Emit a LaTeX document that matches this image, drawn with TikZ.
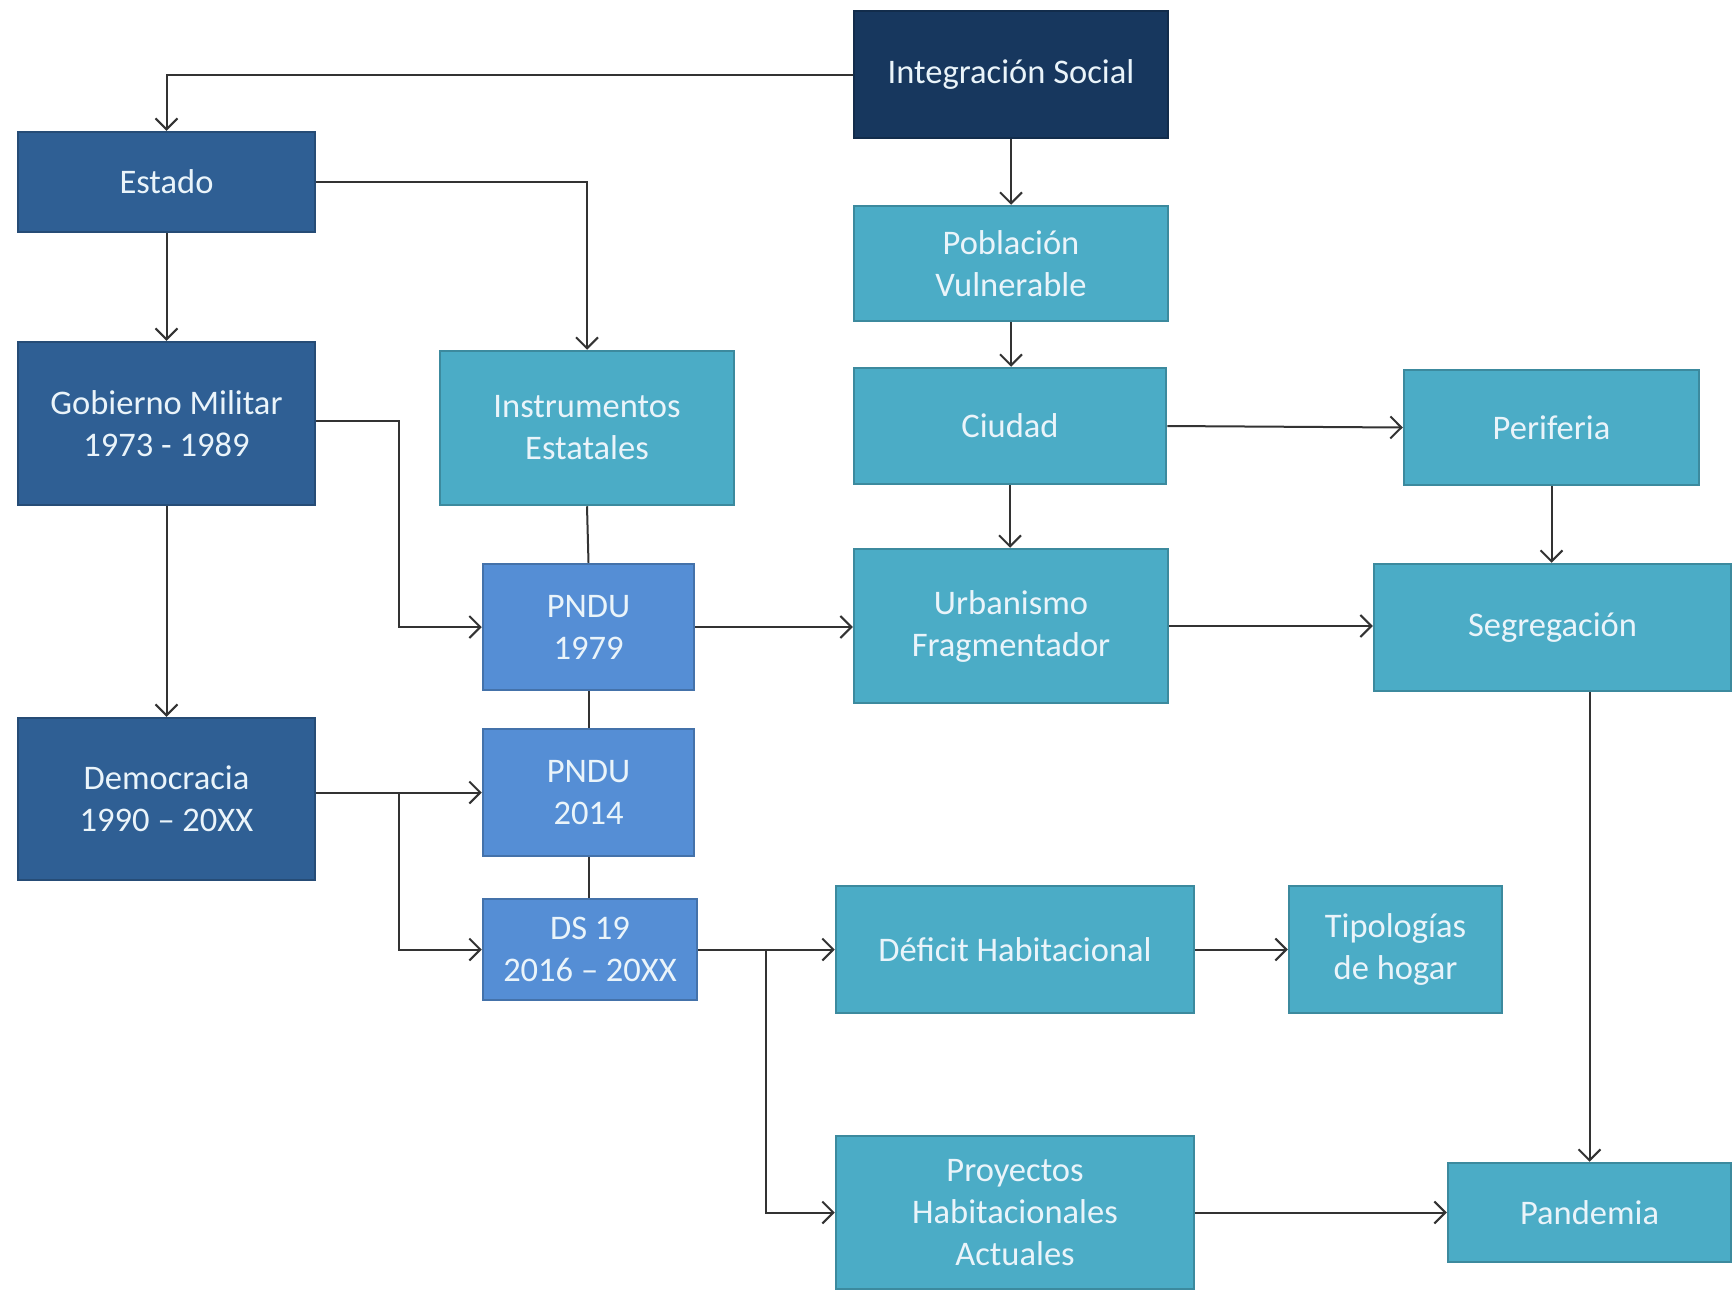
\documentclass[tikz,border=0pt]{standalone}
\usepackage{fontspec}
\setmainfont{Carlito}
\usetikzlibrary{arrows.meta}
\definecolor{navy}{HTML}{17375E}
\definecolor{estblue}{HTML}{2F5F94}
\definecolor{teal}{HTML}{4BACC6}
\definecolor{midblue}{HTML}{558ED5}
\definecolor{txt}{HTML}{EAF4FA}
\tikzset{
  box/.style={draw=#1!80!black, line width=2.5pt, fill=#1, text=txt, align=center,
    font=\fontsize{34.5}{42}\selectfont, inner sep=0pt},
  conn/.style={draw=black!80, line width=2pt},
  arr/.style={conn, -{Straight Barb[length=11pt,width=22pt,line width=2pt]}},
}
\begin{document}
\begin{tikzpicture}[x=1pt,y=-1pt]
\useasboundingbox[fill=white] (0,0) rectangle (1734,1296);
\node[box=navy, minimum width=314pt, minimum height=127pt] (integ) at (1011,74.5) {Integración Social};
\node[box=estblue, minimum width=297pt, minimum height=100pt] (estado) at (166.5,182) {Estado};
\node[box=estblue, minimum width=297pt, minimum height=163pt] (gob) at (166.5,423.5) {Gobierno Militar\\1973 - 1989};
\node[box=estblue, minimum width=297pt, minimum height=162pt] (demo) at (166.5,799) {Democracia\\1990 -- 20XX};
\node[box=teal, minimum width=294pt, minimum height=154pt] (instr) at (587,428) {Instrumentos\\Estatales};
\node[box=midblue, minimum width=211pt, minimum height=126pt] (p79) at (588.5,627) {PNDU\\1979};
\node[box=midblue, minimum width=211pt, minimum height=127pt] (p14) at (588.5,792.5) {PNDU\\2014};
\node[box=midblue, minimum width=214pt, minimum height=101pt] (ds) at (590,949.5) {DS 19\\2016 -- 20XX};
\node[box=teal, minimum width=314pt, minimum height=115pt] (pob) at (1011,263.5) {Población\\Vulnerable};
\node[box=teal, minimum width=312pt, minimum height=116pt] (ciudad) at (1010,426) {Ciudad};
\node[box=teal, minimum width=314pt, minimum height=154pt] (urb) at (1011,626) {Urbanismo\\Fragmentador};
\node[box=teal, minimum width=295pt, minimum height=115pt] (peri) at (1551.5,427.5) {Periferia};
\node[box=teal, minimum width=357pt, minimum height=127pt] (segr) at (1552.5,627.5) {Segregación};
\node[box=teal, minimum width=358pt, minimum height=127pt] (defic) at (1015,949.5) {Déficit Habitacional};
\node[box=teal, minimum width=213pt, minimum height=127pt] (tipo) at (1395.5,949.5) {Tipologías\\de hogar};
\node[box=teal, minimum width=358pt, minimum height=153pt] (proy) at (1015,1212.5) {Proyectos\\Habitacionales\\Actuales};
\node[box=teal, minimum width=283pt, minimum height=99pt] (pand) at (1589.5,1212.5) {Pandemia};

\coordinate (j1) at (399,627);
\coordinate (j2) at (399,949.5);
\coordinate (j3) at (766,949.5);
\coordinate (j4) at (766,1212.5);

\draw[arr] (integ.west) -| (estado.north);
\draw[arr] (integ.south) -- (pob.north);
\draw[arr] (estado.east) -| (instr.north);
\draw[arr] (estado.south) -- (gob.north);
\draw[arr] (gob.south) -- (demo.north);
\draw[arr] (gob.east |- 0,421) -| (j1) -- (p79.west);
\draw[conn] (instr.south) -- (p79.north);
\draw[conn] (p79.south) -- (p14.north);
\draw[conn] (p14.south -| 588.5,0) -- (ds.north -| 588.5,0);
\draw[arr] (demo.east |- p14.west) -- (p14.west);
\draw[arr] (j1 |- p14.west) -- (j2) -- (ds.west);
\draw[arr] (p79.east) -- (urb.west |- p79.east);
\draw[arr] (pob.south) -- (pob.south |- ciudad.north);
\draw[arr] (ciudad.south) -- (urb.north -| ciudad.south);
\draw[arr] (ciudad.east) -- (peri.west);
\draw[arr] (peri.south) -- (peri.south |- segr.north);
\draw[arr] (urb.east) -- (segr.west |- urb.east);
\draw[arr] (segr.south -| pand.north) -- (pand.north);
\draw[arr] (ds.east) -- (defic.west);
\draw[arr] (j3) -- (j4) -- (proy.west);
\draw[arr] (defic.east) -- (tipo.west);
\draw[arr] (proy.east) -- (pand.west);
\end{tikzpicture}
\end{document}
